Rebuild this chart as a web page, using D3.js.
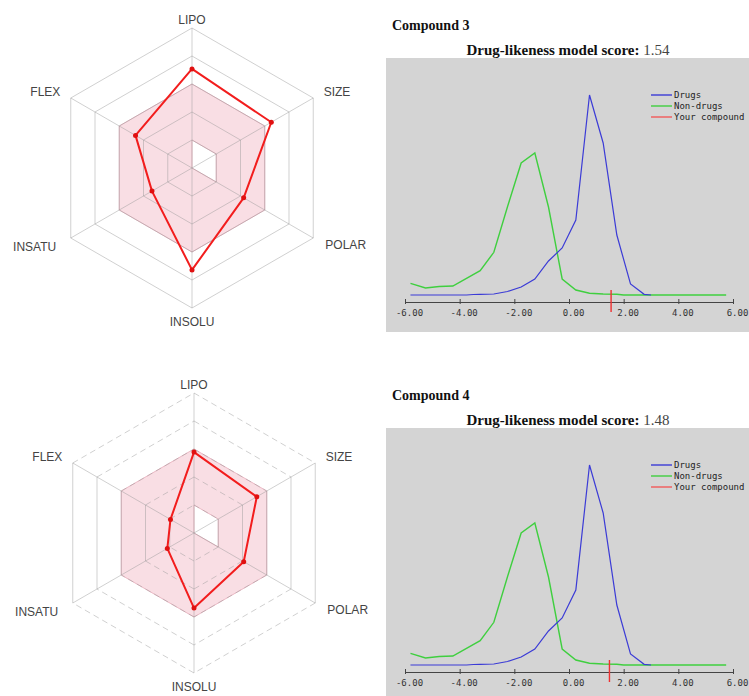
<!DOCTYPE html>
<html>
<head>
<meta charset="utf-8">
<script src="https://cdn.jsdelivr.net/npm/d3@7"></script>
<style>
  body { margin: 0; background: #fff; }
  svg { display: block; }
</style>
</head>
<body>
<div class="container"></div>
<script>
// radar axes and values (ring units, 0..5)
const radarAxes = ['LIPO', 'SIZE', 'POLAR', 'INSOLU', 'INSATU', 'FLEX'];
const compound3Radar = [3.54, 3.27, 2.13, 3.64, 1.65, 2.33];
const compound4Radar = [2.89, 2.59, 2.05, 2.68, 1.10, 0.97];
const optimalInner = [1, 1, 1, 0, 0, 0];
const optimalOuter = [3, 3, 3, 3, 3, 3];
const ringLevels = [1, 2, 3, 4, 5];

// drug-likeness score distributions
const drugsX = [-5.8, -5.25, -4.75, -4.25, -3.75, -3.5, -3.25, -2.75, -2.25, -1.75, -1.25, -0.75, -0.25, 0.25, 0.75, 1.25, 1.75, 2.25, 2.75, 3.0];
const drugsY = [0, 0, 0, 0, 0, 0.05, 0.07, 0.1, 0.35, 0.8, 1.6, 3.4, 4.7, 7.5, 20, 15.2, 6.0, 1.1, 0.07, 0];
const nonDrugsX = [-5.8, -5.25, -4.75, -4.25, -3.75, -3.25, -2.75, -2.25, -1.75, -1.25, -0.75, -0.25, 0.25, 0.75, 1.25, 1.75, 2.0, 5.75];
const nonDrugsY = [1.17, 0.7, 0.85, 0.9, 1.67, 2.43, 4.27, 8.83, 13.2, 14.2, 8.8, 1.6, 0.5, 0.17, 0.1, 0.07, 0, 0];
const xTicks = [-6, -4, -2, 0, 2, 4, 6];

const compoundNames = ['Compound 3', 'Compound 4'];
const compoundScores = [1.54, 1.48];
const legendLabels = ['Drugs', 'Non-drugs', 'Your compound'];
const legendColors = ['#3b3bd6', '#3fcf3f', '#f25a5a'];

const svg = d3.select('.container').append('svg')
    .attr('width', 749)
    .attr('height', 696);

const rScale = d3.scaleLinear().domain([0, 5]).range([0, 140]);

function polar(cx, cy, i, v) {
    const a = i * Math.PI / 3;
    const r = rScale(v);
    return [cx + r * Math.sin(a), cy - r * Math.cos(a)];
}

function drawRadar(cx, cy, values, dashed) {
    const g = svg.append('g');
    const n = radarAxes.length;

    // optimal (pink) zone with the inner hole
    const outer = optimalOuter.map((v, i) => polar(cx, cy, i, v));
    const inner = optimalInner.map((v, i) => polar(cx, cy, i, v));
    const ring = pts => 'M' + pts.map(p => p.join(',')).join('L') + 'Z';
    g.append('path')
        .attr('d', ring(outer) + ring(inner))
        .attr('fill', '#f9dee4')
        .attr('fill-rule', 'evenodd')
        .attr('stroke', '#ebb8c4')
        .attr('stroke-width', 1);

    // grid rings, drawn edge by edge
    ringLevels.forEach(lv => {
        for (let i = 0; i < n; i++) {
            const p1 = polar(cx, cy, i, lv);
            const p2 = polar(cx, cy, (i + 1) % n, lv);
            const vertical = Math.abs(p1[0] - p2[0]) < 0.5;
            g.append('line')
                .attr('x1', p1[0]).attr('y1', p1[1])
                .attr('x2', p2[0]).attr('y2', p2[1])
                .attr('stroke', 'rgba(150,150,150,0.45)')
                .attr('stroke-width', 1)
                .attr('stroke-dasharray', dashed && !vertical ? '6,4' : null);
        }
    });

    // spokes
    radarAxes.forEach((a, i) => {
        const p = polar(cx, cy, i, 5);
        g.append('line')
            .attr('x1', cx).attr('y1', cy)
            .attr('x2', p[0]).attr('y2', p[1])
            .attr('stroke', 'rgba(150,150,150,0.45)')
            .attr('stroke-width', 1);
    });

    // labels
    const labelR = [5.28, 5.43, 5.5, 5.5, 5.6, 5.43];
    radarAxes.forEach((a, i) => {
        const p = polar(cx, cy, i, labelR[i]);
        const s = Math.sin(i * Math.PI / 3);
        g.append('text')
            .attr('x', p[0])
            .attr('y', p[1])
            .attr('dy', '0.35em')
            .attr('text-anchor', s > 0.1 ? 'start' : (s < -0.1 ? 'end' : 'middle'))
            .attr('font-family', 'Liberation Sans, Arial, sans-serif')
            .attr('font-size', 12)
            .attr('fill', '#444')
            .text(a);
    });

    // compound polygon
    const pts = values.map((v, i) => polar(cx, cy, i, v));
    g.append('path')
        .attr('d', ring(pts))
        .attr('fill', 'none')
        .attr('stroke', '#f21d1d')
        .attr('stroke-width', 2)
        .attr('stroke-linejoin', 'round');
    g.selectAll('circle.pt')
        .data(pts)
        .join('circle')
        .attr('class', 'pt')
        .attr('cx', d => d[0])
        .attr('cy', d => d[1])
        .attr('r', 2.5)
        .attr('fill', '#e01010');
}

function drawDensity(offsetY, name, score) {
    const g = svg.append('g').attr('transform', `translate(0, ${offsetY})`);

    g.append('text')
        .attr('x', 392).attr('y', 30)
        .attr('font-family', 'Liberation Serif, Times New Roman, serif')
        .attr('font-weight', 'bold')
        .attr('font-size', 14)
        .attr('fill', '#111')
        .text(name);

    const title = g.append('text')
        .attr('x', 568).attr('y', 55)
        .attr('text-anchor', 'middle')
        .attr('font-family', 'Liberation Serif, Times New Roman, serif')
        .attr('font-size', 15)
        .attr('fill', '#111');
    title.append('tspan').attr('font-weight', 'bold').text('Drug-likeness model score: ');
    title.append('tspan').attr('fill', '#444').text(score.toFixed(2));

    g.append('rect')
        .attr('x', 386).attr('y', 58)
        .attr('width', 370).attr('height', 274)
        .attr('fill', '#d4d4d4');

    const x = d3.scaleLinear().domain([-6, 6]).range([405, 733]);
    const y = d3.scaleLinear().domain([0, 20]).range([295, 95]);

    const xAxis = d3.axisBottom(x)
        .tickValues(xTicks)
        .tickFormat(d => d.toFixed(2))
        .tickSizeInner(3)
        .tickSizeOuter(0);

    const ax = g.append('g')
        .attr('transform', 'translate(0, 302)')
        .call(xAxis);
    ax.select('.domain').attr('stroke', '#444');
    ax.selectAll('.tick line').attr('stroke', '#444').attr('y1', -3).attr('y2', 2);
    ax.selectAll('.tick text')
        .attr('y', 8)
        .attr('dx', 4)
        .attr('font-family', 'DejaVu Sans Mono, monospace')
        .attr('font-size', 9)
        .attr('fill', '#333');

    const line = d3.line()
        .x(d => x(d[0]))
        .y(d => y(d[1]));

    g.append('path')
        .datum(d3.zip(nonDrugsX, nonDrugsY))
        .attr('d', line)
        .attr('fill', 'none')
        .attr('stroke', legendColors[1])
        .attr('stroke-width', 1.4);

    g.append('path')
        .datum(d3.zip(drugsX, drugsY))
        .attr('d', line)
        .attr('fill', 'none')
        .attr('stroke', legendColors[0])
        .attr('stroke-width', 1.2);

    // compound marker
    g.append('line')
        .attr('x1', x(score)).attr('x2', x(score))
        .attr('y1', y(0.5)).attr('y2', 312)
        .attr('stroke', '#f03030')
        .attr('stroke-width', 1.4);

    // legend
    legendLabels.forEach((lab, i) => {
        const ly = 95 + i * 11;
        g.append('line')
            .attr('x1', 651).attr('x2', 672)
            .attr('y1', ly).attr('y2', ly)
            .attr('stroke', legendColors[i])
            .attr('stroke-width', 1.4);
        g.append('text')
            .attr('x', 674).attr('y', ly)
            .attr('dy', '0.35em')
            .attr('font-family', 'DejaVu Sans Mono, monospace')
            .attr('font-size', 9)
            .attr('fill', '#222')
            .text(lab);
    });
}

drawRadar(192, 168, compound3Radar, false);
drawRadar(194, 533, compound4Radar, true);
drawDensity(0, compoundNames[0], compoundScores[0]);
drawDensity(370, compoundNames[1], compoundScores[1]);
</script>
</body>
</html>
